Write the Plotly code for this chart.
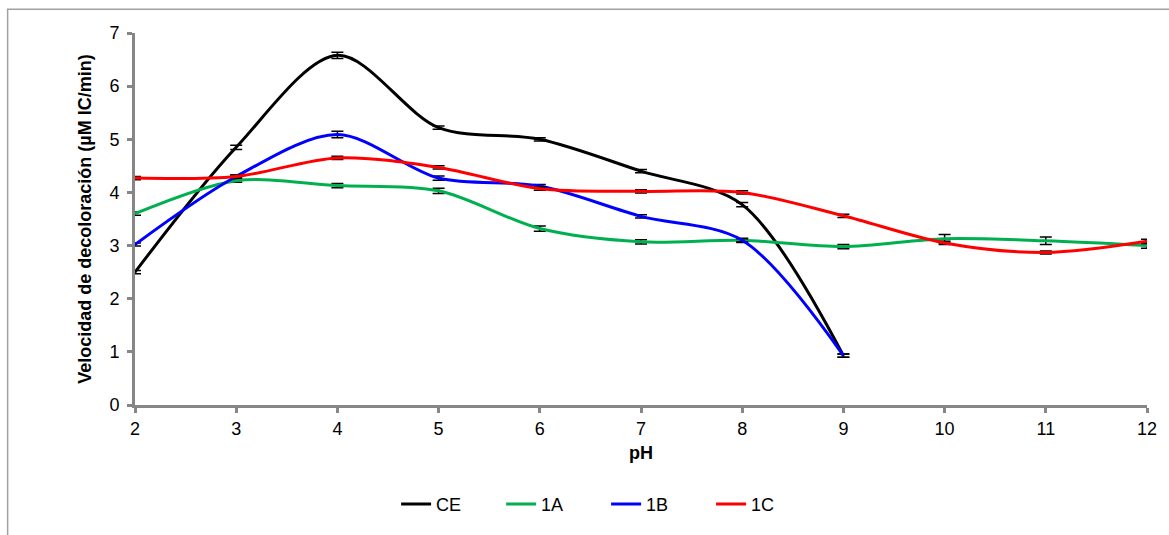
import plotly.graph_objects as go

ph = [2, 3, 4, 5, 6, 7, 8, 9, 10, 11, 12]
ce = [2.50, 4.85, 6.58, 5.22, 5.00, 4.40, 3.77, 0.93]
ce_err = [0.03, 0.04, 0.06, 0.03, 0.03, 0.03, 0.04, 0.03]
a1 = [3.60, 4.22, 4.13, 4.03, 3.32, 3.07, 3.10, 2.98, 3.13, 3.09, 3.00]
a1_err = [0.03, 0.03, 0.04, 0.05, 0.05, 0.04, 0.04, 0.04, 0.08, 0.07, 0.05]
b1 = [3.02, 4.30, 5.09, 4.27, 4.12, 3.55, 3.10, 0.93]
b1_err = [0.03, 0.03, 0.06, 0.04, 0.03, 0.03, 0.03, 0.03]
c1 = [4.27, 4.30, 4.65, 4.47, 4.07, 4.02, 4.00, 3.56, 3.05, 2.87, 3.08]
c1_err = [0.03, 0.03, 0.03, 0.03, 0.03, 0.03, 0.03, 0.03, 0.03, 0.03, 0.04]

names = ["CE", "1A", "1B", "1C"]
colors = ["#000000", "#00B050", "#0000FF", "#FF0000"]
series = [ce, a1, b1, c1]
errs = [ce_err, a1_err, b1_err, c1_err]

FONT = "Liberation Sans Narrow, Arial Narrow, Liberation Sans, Arial, sans-serif"

fig = go.Figure()
for n, col, ys, es in zip(names, colors, series, errs):
    fig.add_trace(go.Scatter(
        x=ph[:len(ys)], y=ys, name=n, mode="lines",
        line=dict(color=col, width=3, shape="spline", smoothing=0.9),
        error_y=dict(type="data", array=es, visible=True, color="black", thickness=1.5, width=6),
        cliponaxis=False,
    ))

fig.update_layout(
    width=1169, height=535,
    margin=dict(l=135, r=17, t=33, b=128),
    paper_bgcolor="white", plot_bgcolor="white",
    font=dict(family=FONT, size=18, color="black"),
    showlegend=True,
    legend=dict(orientation="h", x=0.258, xanchor="left", y=-0.267, yanchor="middle",
                font=dict(family=FONT, size=18), entrywidth=60, entrywidthmode="pixels",
                bgcolor="rgba(0,0,0,0)"),
    xaxis=dict(range=[2, 12], tickvals=ph, ticktext=[str(v) for v in ph],
               showgrid=False, zeroline=False, showline=True, linecolor="#868686", linewidth=3,
               ticks="outside", tickcolor="#868686", tickwidth=3, ticklen=5,
               tickfont=dict(family=FONT, size=18)),
    yaxis=dict(range=[0, 7], tickvals=[0, 1, 2, 3, 4, 5, 6, 7],
               showgrid=False, zeroline=False, showline=True, linecolor="#868686", linewidth=3,
               ticks="outside", tickcolor="#868686", tickwidth=3, ticklen=5,
               ticklabelstandoff=4,
               tickfont=dict(family=FONT, size=18),
               title=dict(text="<b>Velocidad de decoloración (µM IC/min)</b>",
                          font=dict(family=FONT, size=18), standoff=14)),
)

fig.add_annotation(text="<b>pH</b>", xref="paper", yref="paper", x=0.5, y=(407 - 455) / 374,
                   xanchor="center", yanchor="middle", showarrow=False,
                   font=dict(family=FONT, size=18, color="black"))

fig.add_shape(type="rect", xref="paper", yref="paper",
              x0=-128/1017, x1=1.2, y0=-0.6, y1=(407-9)/374,
              line=dict(color="#A0A0A0", width=1.5), fillcolor="rgba(0,0,0,0)", layer="below")

fig.write_html("out.html")
